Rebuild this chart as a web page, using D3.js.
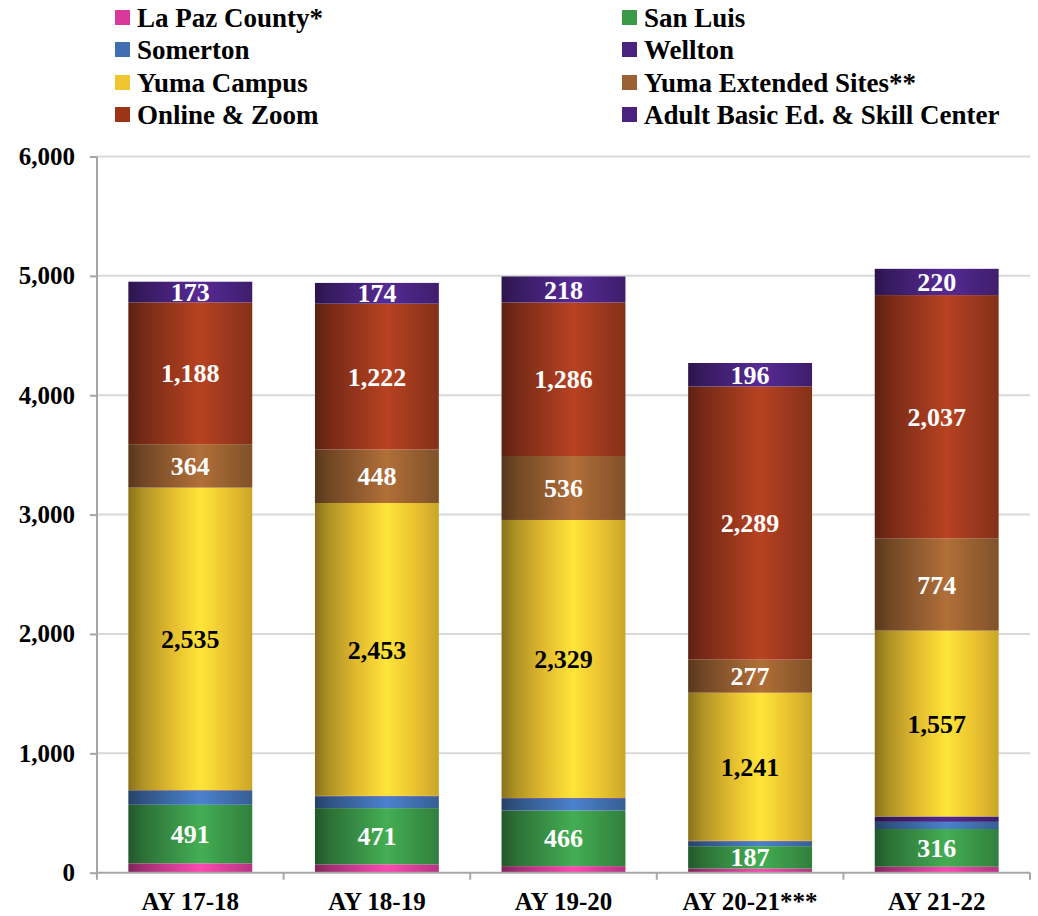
<!DOCTYPE html>
<html>
<head>
<meta charset="utf-8">
<script src="https://cdn.jsdelivr.net/npm/d3@7"></script>
<style>
  html, body { margin: 0; padding: 0; background: #fff; }
  svg text { font-family: "Liberation Serif", "DejaVu Serif", serif; font-weight: bold; }
</style>
</head>
<body>
<svg id="chart" width="1038" height="916"></svg>
<script>
const categories = ["AY 17-18", "AY 18-19", "AY 19-20", "AY 20-21***", "AY 21-22"];
const seriesNames = ["La Paz County*", "San Luis", "Somerton", "Wellton", "Yuma Campus",
  "Yuma Extended Sites**", "Online & Zoom", "Adult Basic Ed. & Skill Center"];
const laPaz      = [78, 70, 55, 35, 50];
const sanLuis    = [491, 471, 466, 187, 316];
const somerton   = [117, 98, 100, 40, 60];
const wellton    = [5, 5, 5, 5, 45];
const yumaCampus = [2535, 2453, 2329, 1241, 1557];
const yumaExt    = [364, 448, 536, 277, 774];
const online     = [1188, 1222, 1286, 2289, 2037];
const adultBasic = [173, 174, 218, 196, 220];
const yTicks = [0, 1000, 2000, 3000, 4000, 5000, 6000];

const seriesValues = [laPaz, sanLuis, somerton, wellton, yumaCampus, yumaExt, online, adultBasic];
const colors = ["#E0409E", "#3C9A4A", "#4273B4", "#4A2382", "#F4CA32", "#9C6232", "#A23A1E", "#4C2584"];
const legendColors = ["#D8399A", "#3A9A48", "#3F6FB0", "#4A2380", "#F0C630", "#9A6232", "#9C3418", "#4A2380"];
const showLabel = [false, true, false, false, true, true, true, true];
const labelColor = ["#fff", "#fff", "#fff", "#fff", "#000", "#fff", "#fff", "#fff"];

const svg = d3.select("#chart");
const margin = { left: 97 };

const x = d3.scaleBand().domain(categories).range([margin.left, 1030]).paddingInner(0.336).paddingOuter(0.168);
const y = d3.scaleLinear().domain([0, 6000]).range([872.7, 156.5]);

// gradients
const defs = svg.append("defs");
colors.forEach((c, i) => {
  const base = d3.rgb(c);
  const g = defs.append("linearGradient").attr("id", "g" + i).attr("x1", "0").attr("x2", "1").attr("y1", "0").attr("y2", "0");
  const stops = [
    [0, base.darker(1.6)],
    [0.12, base.darker(0.9)],
    [0.35, base.darker(0.2)],
    [0.58, base.brighter(0.35)],
    [0.8, base.darker(0.1)],
    [1, base.darker(0.55)]
  ];
  stops.forEach(([o, col]) => g.append("stop").attr("offset", o).attr("stop-color", col.formatHex()));
});

// gridlines
svg.append("g").selectAll("line").data(yTicks.filter(d => d > 0)).join("line")
  .attr("x1", margin.left).attr("x2", 1030)
  .attr("y1", d => y(d)).attr("y2", d => y(d))
  .attr("stroke", "#d9d9d9").attr("stroke-width", 2);

// stack
const table = categories.map((c, i) => {
  const o = { cat: c };
  seriesNames.forEach((s, j) => o[s] = seriesValues[j][i]);
  return o;
});
const stacked = d3.stack().keys(seriesNames)(table);

const layers = svg.append("g").selectAll("g").data(stacked).join("g")
  .attr("fill", (d, i) => `url(#g${i})`);
layers.selectAll("rect").data(d => d).join("rect")
  .attr("x", d => x(d.data.cat))
  .attr("width", x.bandwidth())
  .attr("y", d => y(d[1]))
  .attr("height", d => y(d[0]) - y(d[1]));

// labels
stacked.forEach((layer, i) => {
  if (!showLabel[i]) return;
  svg.append("g").selectAll("text").data(layer).join("text")
    .attr("x", d => x(d.data.cat) + x.bandwidth() / 2)
    .attr("y", d => (y(d[0]) + y(d[1])) / 2)
    .attr("dy", "0.35em")
    .attr("text-anchor", "middle")
    .attr("fill", labelColor[i])
    .attr("font-size", 26)
    .text(d => d3.format(",")(d[1] - d[0]));
});

// y axis
const yAxis = svg.append("g").attr("transform", `translate(${margin.left},0)`)
  .call(d3.axisLeft(y).tickValues(yTicks).tickFormat(d3.format(",")).tickSize(7).tickPadding(15));
yAxis.select(".domain").attr("stroke", "#a6a6a6").attr("stroke-width", 2).attr("d", `M0,${y(6000)}V${y(0)}`);
yAxis.selectAll(".tick line").attr("stroke", "#a6a6a6").attr("stroke-width", 2);
yAxis.selectAll(".tick text").attr("font-size", 25).attr("fill", "#000")
  .style("font-family", '"Liberation Serif", serif').style("font-weight", "bold");

// x axis
const xAxis = svg.append("g").attr("transform", `translate(0,${y(0)})`)
  .call(d3.axisBottom(x).tickSize(0).tickPadding(20));
xAxis.select(".domain").attr("stroke", "#a6a6a6").attr("stroke-width", 2).attr("d", `M${margin.left},0H1030`);
xAxis.selectAll(".tick text").attr("font-size", 25).attr("fill", "#000")
  .style("font-family", '"Liberation Serif", serif').style("font-weight", "bold");
// category boundary ticks
const bounds = d3.range(categories.length + 1).map(i => margin.left + i * (1030 - margin.left) / categories.length);
svg.append("g").selectAll("line").data(bounds).join("line")
  .attr("x1", d => d).attr("x2", d => d)
  .attr("y1", y(0)).attr("y2", y(0) + 7)
  .attr("stroke", "#a6a6a6").attr("stroke-width", 2);

// legend
const legendPos = [
  [115, 18], [622, 18],
  [115, 50], [622, 50],
  [115, 83], [622, 83],
  [115, 115], [622, 115]
];
const legend = svg.append("g").selectAll("g").data(seriesNames).join("g")
  .attr("transform", (d, i) => `translate(${legendPos[i][0]},${legendPos[i][1]})`);
legend.append("rect").attr("x", 0).attr("y", -8).attr("width", 15).attr("height", 15)
  .attr("fill", (d, i) => legendColors[i]);
legend.append("text").attr("x", 22).attr("y", 0).attr("dy", "0.35em")
  .attr("font-size", 27).attr("fill", "#000").text(d => d);
</script>
</body>
</html>
